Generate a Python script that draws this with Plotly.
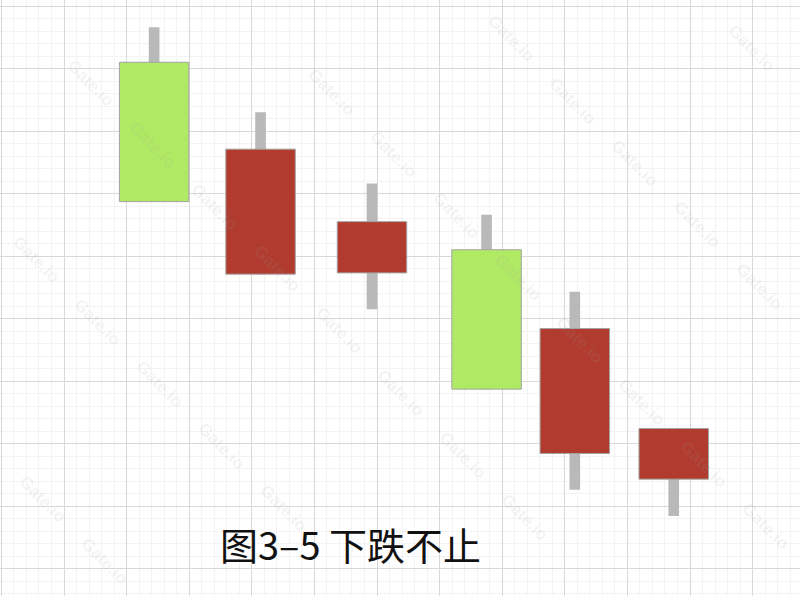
import plotly.graph_objects as go

# candle positions (grid units) and prices
x_pos = [2.44, 4.14, 5.92, 7.75, 9.16, 10.74]
open_ = [81.0, 47.1, 47.3, 51.0, 18.4, 14.3]
close = [58.7, 67.1, 55.5, 28.7, 38.4, 22.4]
high = [86.6, 73.0, 61.6, 56.6, 44.3, 22.4]
low = [58.7, 47.1, 41.5, 28.7, 12.6, 8.4]
title_text = "图3–5 下跌不止"
watermark = "Gate.io"

UP = "#b03b2e"    # red = rise
DOWN = "#b0ea64"  # green = fall

body_base = [min(o, c) for o, c in zip(open_, close)]
body_h = [abs(c - o) for o, c in zip(open_, close)]
body_col = [UP if c > o else DOWN for o, c in zip(open_, close)]

fig = go.Figure()
fig.add_trace(go.Bar(
    x=x_pos, y=[h - l for h, l in zip(high, low)], base=low,
    width=0.17, marker=dict(color="#b9b9b9", line=dict(width=0)),
    hoverinfo="skip"))
fig.add_trace(go.Bar(
    x=x_pos, y=body_h, base=body_base,
    width=1.11, marker=dict(color=body_col, line=dict(color="#a3a3a3", width=1))))

# faint diagonal watermarks (only the ones fully inside the frame)
for j in range(-3, 6):
    for i in range(-6, 12):
        px = 270 + 62 * i - 117 * j
        py = 30 + 62 * i + 115 * j
        if 30 < px < 770 and 30 < py < 566:
            fig.add_annotation(
                x=px / 800, y=1 - py / 596, xref="paper", yref="paper",
                xanchor="center", yanchor="middle",
                text="<b>" + watermark + "</b>", showarrow=False, textangle=45,
                font=dict(family="Arial, Liberation Sans", size=17,
                          color="rgba(160,160,160,0.12)"))

fig.add_annotation(
    x=350 / 800, y=1 - 543 / 596, xref="paper", yref="paper",
    xanchor="center", yanchor="middle",
    text=title_text, showarrow=False,
    font=dict(family="Noto Sans CJK SC", size=38, color="#111111"))

axis_common = dict(
    showticklabels=False, zeroline=False, showline=False, ticks="",
    gridcolor="#d8d8d8", gridwidth=1.4,
    minor=dict(showgrid=True, gridcolor="#f3f3f3", gridwidth=1))

fig.update_xaxes(range=[-1.4 / 62.6, 798.6 / 62.6], dtick=1, tick0=0,
                 minor_dtick=0.2, **axis_common)
fig.update_yaxes(range=[-4.4, 90.96], dtick=10, tick0=0,
                 minor_dtick=2, **axis_common)

fig.update_layout(
    width=800, height=596,
    margin=dict(l=0, r=0, t=0, b=0),
    barmode="overlay", showlegend=False,
    plot_bgcolor="white", paper_bgcolor="white")

fig.write_html("out.html", config={"displayModeBar": False},
               post_script="document.body.style.margin='0';")
